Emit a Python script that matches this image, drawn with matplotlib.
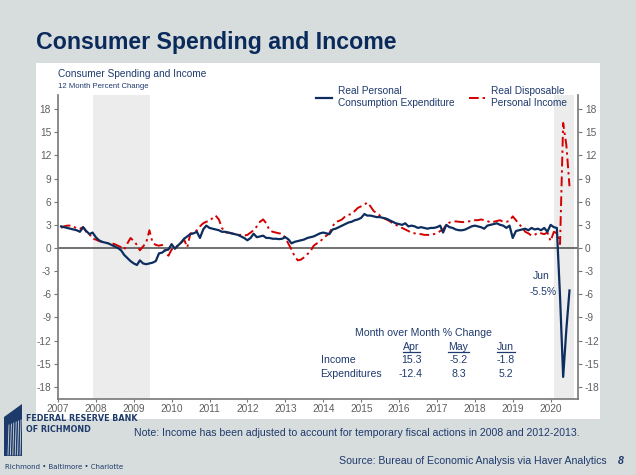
import numpy as np
import pandas as pd
import matplotlib; matplotlib.use('Agg')
import matplotlib.pyplot as plt
import matplotlib.dates as mdates
from matplotlib.lines import Line2D
from matplotlib.patches import Rectangle, Polygon

plt.rcParams['font.family'] = ['Liberation Sans', 'DejaVu Sans']
plt.rcParams['axes.unicode_minus'] = False

# monthly, Jan 2007 - Jun 2020, 12 month % change
months = pd.date_range('2007-01-31', periods=162, freq='ME')
pce = [
    2.8, 2.7, 2.6, 2.5, 2.4, 2.3, 2.1, 2.7, 2.2, 1.8, 2.0, 1.4,          # 2007
    1.0, 0.8, 0.7, 0.6, 0.4, 0.2, 0.0, -0.3, -0.9, -1.3, -1.7, -2.0,     # 2008
    -2.2, -1.6, -2.0, -2.1, -2.0, -1.9, -1.7, -0.7, -0.6, -0.3, -0.2, 0.5,  # 2009
    -0.1, 0.3, 0.7, 1.2, 1.5, 1.8, 1.9, 2.1, 1.3, 2.4, 2.9, 2.6,         # 2010
    2.5, 2.4, 2.3, 2.1, 2.1, 2.0, 1.9, 1.8, 1.7, 1.5, 1.3, 1.0,          # 2011
    1.3, 1.85, 1.4, 1.5, 1.6, 1.3, 1.3, 1.2, 1.2, 1.15, 1.2, 1.4,        # 2012
    1.1, 0.6, 0.8, 0.9, 1.0, 1.1, 1.3, 1.4, 1.5, 1.7, 1.9, 2.0,          # 2013
    1.9, 1.8, 2.4, 2.5, 2.7, 2.9, 3.1, 3.3, 3.4, 3.6, 3.7, 3.9,          # 2014
    4.4, 4.2, 4.2, 4.1, 4.0, 4.0, 3.9, 3.8, 3.6, 3.4, 3.2, 3.1,          # 2015
    3.0, 3.2, 2.8, 2.9, 2.8, 2.6, 2.7, 2.6, 2.5, 2.6, 2.6, 2.7,          # 2016
    2.9, 2.0, 3.0, 2.7, 2.6, 2.4, 2.3, 2.3, 2.4, 2.6, 2.8, 2.9,          # 2017
    2.8, 2.7, 2.5, 2.9, 3.0, 3.1, 3.2, 3.0, 2.9, 2.6, 2.9, 1.3,          # 2018
    2.2, 2.3, 2.4, 2.5, 2.3, 2.6, 2.4, 2.5, 2.3, 2.6, 2.1, 3.0,          # 2019
    2.7, 2.6, -6.3, -16.7, -10.5, -5.5,                                  # 2020
]
dpi_income = [
    2.6, 2.8, 2.9, 2.9, 2.8, 2.5, 2.5, 2.7, 2.1, 1.8, 1.2, 1.1,          # 2007
    0.9, 0.8, 0.7, 0.6, 0.6, 0.5, 0.3, 0.1, -0.2, 0.6, 1.3, 0.9,         # 2008
    0.4, -0.3, 0.2, 0.7, 2.3, 0.7, 0.4, 0.3, 0.4, -0.5, -1.0, -0.2,      # 2009
    0.0, 0.3, 0.65, 1.1, 0.1, 1.9, 1.9, 2.3, 2.8, 3.2, 3.4, 3.5,         # 2010
    3.9, 4.2, 3.7, 2.6, 2.0, 2.0, 1.9, 1.8, 1.7, 1.7, 1.6, 1.7,          # 2011
    2.0, 2.3, 2.8, 3.4, 3.7, 3.2, 2.3, 2.1, 2.0, 1.9, 1.85, 1.3,         # 2012
    0.5, -0.2, -1.1, -1.6, -1.5, -1.2, -0.8, -0.4, 0.3, 0.6, 0.8, 1.3,   # 2013
    1.6, 1.9, 2.8, 3.4, 3.5, 3.7, 4.1, 4.3, 4.4, 4.8, 5.2, 5.4,          # 2014
    5.6, 5.9, 5.4, 4.8, 4.5, 4.2, 3.9, 3.7, 3.5, 3.2, 3.0, 2.8,          # 2015
    2.6, 2.4, 2.2, 1.95, 1.9, 1.8, 1.8, 1.7, 1.7, 1.7, 1.8, 1.9,         # 2016
    2.2, 2.4, 3.0, 3.3, 3.4, 3.45, 3.4, 3.35, 3.4, 3.45, 3.5, 3.6,       # 2017
    3.6, 3.7, 3.6, 3.5, 3.3, 3.4, 3.5, 3.6, 3.4, 3.4, 3.5, 4.1,          # 2018
    3.6, 3.1, 2.7, 2.1, 1.9, 1.6, 1.7, 2.0, 1.9, 1.8, 2.0, 0.9,          # 2019
    2.1, 1.9, 0.5, 16.2, 13.3, 8.0,                                      # 2020
]
recessions = [('2007-12-01', '2009-06-01'), ('2020-02-01', '2020-08-15')]

table_cols = ['Apr', 'May', 'Jun']
table_rows = ['Income', 'Expenditures']
table_vals = [['15.3', '-5.2', '-1.8'], ['-12.4', '8.3', '5.2']]

NAVY = '#0c2d5e'
TXT = '#1f3a6e'
RED = '#d40000'
GRAY = '#5f5f5f'
W, H = 636, 475


def fx(x): return x / W
def fy(y): return 1 - y / H


fig = plt.figure(figsize=(6.36, 4.75), dpi=100, facecolor='#d7dcdc')
fig.add_artist(Rectangle((fx(36), fy(419)), (600 - 36) / W, (419 - 63) / H,
                         transform=fig.transFigure, facecolor='white',
                         edgecolor='none', zorder=0))

ax = fig.add_axes([fx(58), fy(399), (578 - 58) / W, (399 - 95) / H])
ax.set_facecolor('none')

for a, b in recessions:
    ax.axvspan(pd.Timestamp(a), pd.Timestamp(b), color='#ececec', lw=0, zorder=0)
ax.axhline(0, color='#4a4a4a', lw=1.1, zorder=1)

ax.plot(months, pce, color=NAVY, lw=1.6, zorder=3,
        label='Real Personal\nConsumption Expenditure')
ax.plot(months, dpi_income, color=RED, lw=1.4, zorder=2,
        linestyle=(0, (5, 2, 1.2, 2)),
        label='Real Disposable\nPersonal Income')

ax.set_xlim(pd.Timestamp('2007-01-01'), pd.Timestamp('2020-09-20'))
ax.set_ylim(-19.56, 19.82)
ax.set_yticks(np.arange(-18, 19, 3))
ax.xaxis.set_major_locator(mdates.YearLocator())
ax.xaxis.set_major_formatter(mdates.DateFormatter('%Y'))
ax.tick_params(axis='y', which='both', left=True, right=True,
               labelleft=True, labelright=True, labelsize=7.3,
               labelcolor=GRAY, color='#777777', length=3, width=0.8, pad=2)
ax.tick_params(axis='x', labelsize=7.3, labelcolor=GRAY, color='#777777',
               length=2, width=0.8, pad=1.5)
ax.spines['top'].set_visible(False)
for s in ['left', 'right', 'bottom']:
    ax.spines[s].set_color('#777777')
    ax.spines[s].set_linewidth(1.2)

leg = ax.legend(loc='upper left', bbox_to_anchor=(fx(316), fy(86.5)),
                bbox_transform=fig.transFigure, ncol=2, frameon=False,
                fontsize=7.3, handlelength=1.6, handletextpad=0.6,
                columnspacing=1.4, labelspacing=0.2, borderaxespad=0,
                borderpad=0)
for t in leg.get_texts():
    t.set_color(TXT)

# titles
fig.text(fx(36), fy(42), 'Consumer Spending and Income', fontsize=16.7,
         fontweight='bold', color='#0b2a5c', va='center', ha='left')
fig.text(fx(58), fy(74), 'Consumer Spending and Income', fontsize=7.3,
         color=TXT, va='center')
fig.text(fx(58), fy(86.5), '12 Month Percent Change', fontsize=5.6,
         color=TXT, va='center')

# Jun annotation
fig.text(fx(541), fy(276), 'Jun', fontsize=7.5, color=TXT, ha='center', va='center')
fig.text(fx(543), fy(292), '-5.5%', fontsize=7.5, color=TXT, ha='center', va='center')

# month over month table
fig.text(fx(423), fy(333), 'Month over Month % Change', fontsize=7.6,
         color=TXT, ha='center', va='center')
col_x = [411, 458.5, 505.5]
col_w = [17, 21, 18]
for c, x, w in zip(table_cols, col_x, col_w):
    fig.text(fx(x), fy(346.5), c, fontsize=7.6, color=TXT, ha='center', va='center')
    fig.add_artist(Line2D([fx(x - w / 2), fx(x + w / 2)], [fy(352), fy(352)],
                          transform=fig.transFigure, color=TXT, lw=0.9))
for r, (name, vals) in enumerate(zip(table_rows, table_vals)):
    y = 360 + r * 14.3
    fig.text(fx(320.5), fy(y), name, fontsize=7.6, color=TXT, ha='left', va='center')
    for x, v in zip(col_x, vals):
        fig.text(fx(x), fy(y), v, fontsize=7.6, color=TXT, ha='center', va='center')

# footer
fig.text(fx(134), fy(433), 'Note: Income has been adjusted to account for temporary '
         'fiscal actions in 2008 and 2012-2013.', fontsize=7.6, color=TXT, va='center')
fig.text(fx(607), fy(461), 'Source: Bureau of Economic Analysis via Haver Analytics',
         fontsize=7.6, color=TXT, ha='right', va='center')
fig.text(fx(621), fy(461), '8', fontsize=7.6, color=TXT, fontweight='bold',
         style='italic', ha='center', va='center')

# logo
fig.add_artist(Polygon([(fx(4), fy(456)), (fx(4), fy(417)), (fx(22), fy(404)),
                        (fx(22), fy(456))], closed=True, transform=fig.transFigure,
                       facecolor='#1d3a6b', edgecolor='none'))
for i, xx in enumerate(np.linspace(8, 20, 6)):
    fig.add_artist(Line2D([fx(xx), fx(xx + 1)], [fy(455), fy(425 - i)],
                          transform=fig.transFigure, color='#d7dcdc', lw=0.6))
logo_font = ['DejaVu Sans Condensed', 'DejaVu Sans']
fig.text(fx(26), fy(418.5), 'FEDERAL RESERVE BANK', fontsize=5.8, fontweight='bold',
         color='#1d3a6b', va='center', family=logo_font)
fig.text(fx(26), fy(429.5), 'OF RICHMOND', fontsize=5.8, fontweight='bold',
         color='#1d3a6b', va='center', family=logo_font)
fig.text(fx(5), fy(467), 'Richmond \u2022 Baltimore \u2022 Charlotte', fontsize=5.0,
         color='#1d3a6b', va='center', family=logo_font)

fig.savefig('out.png', dpi=100, facecolor=fig.get_facecolor())
